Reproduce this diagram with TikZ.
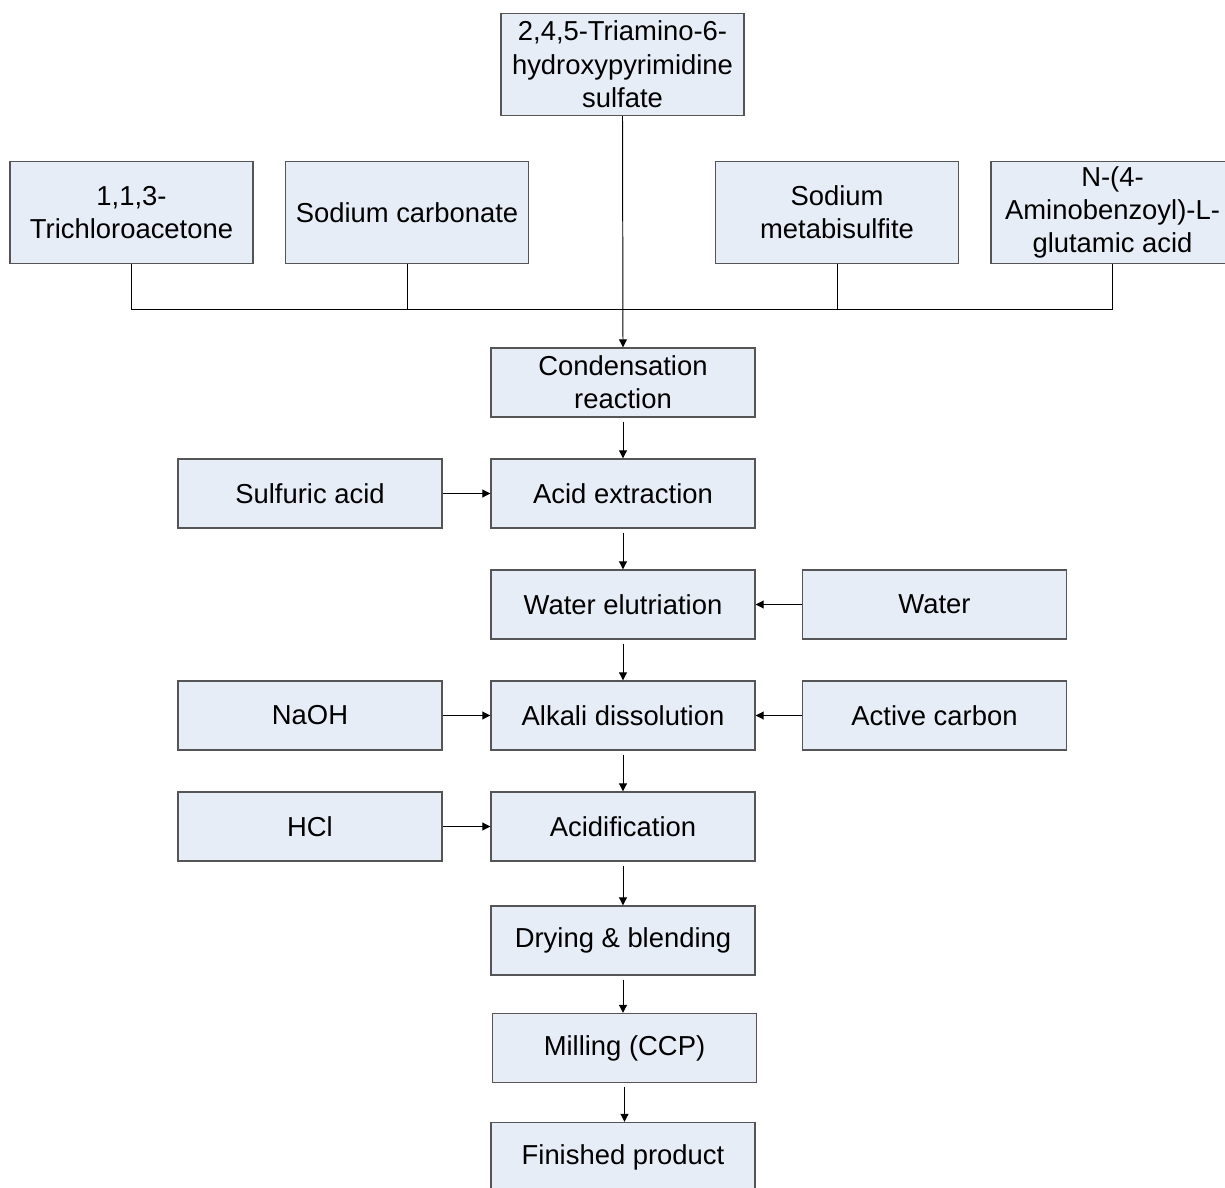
\documentclass[tikz,border=0pt]{standalone}
\usepackage{fontspec}
\setmainfont{Liberation Sans}
\usepackage{tikz}
\usetikzlibrary{positioning, arrows.meta, calc}
\definecolor{boxfill}{RGB}{231,237,247}
\definecolor{boxline}{RGB}{85,85,85}

\begin{document}
\begin{tikzpicture}[
    proc/.style={draw=boxline, line width=0.8pt, fill=boxfill, minimum width=5.28cm, minimum height=1.38cm, inner sep=0pt, align=center, font=\fontsize{15.6}{19}\selectfont},
    feed/.style={proc, minimum width=4.86cm, minimum height=2.04cm},
    link/.style={line width=0.55pt},
    arrow/.style={link, -{Triangle[length=1.6mm, width=1.6mm]}},
    down/.style={arrow, shorten <=0.08cm}
]
\useasboundingbox (0,0) rectangle (24.5,-23.76);

% Raw materials
\node[feed] (tahp) at (12.45,-1.29) {2,4,5-Triamino-6-\\hydroxypyrimidine\\sulfate};
\node[feed] (tca) at (2.63,-4.25) {1,1,3-\\Trichloroacetone};
\node[feed] (soda) at (8.14,-4.25) {Sodium carbonate};
\node[feed] (meta) at (16.74,-4.25) {Sodium\\metabisulfite};
\node[feed] (pabg) at (22.25,-4.25) {N-(4-\\Aminobenzoyl)-L-\\glutamic acid};

% Process steps
\node[proc] (cond) at (12.46,-7.65) {Condensation\\reaction};
\node[proc] (acid) at (12.46,-9.87) {Acid extraction};
\node[proc] (elut) at (12.46,-12.09) {Water elutriation};
\node[proc] (alk) at (12.46,-14.31) {Alkali dissolution};
\node[proc] (acidif) at (12.46,-16.53) {Acidification};
\node[proc] (dry) at (12.46,-18.81) {Drying \& blending};
\node[proc] (mill) at (12.49,-20.96) {Milling (CCP)};
\node[proc] (fin) at (12.46,-23.14) {Finished product};

% Additives
\node[proc] (sulf) at (6.2,-9.87) {Sulfuric acid};
\node[proc] (water) at (18.69,-12.09) {Water};
\node[proc] (naoh) at (6.2,-14.31) {NaOH};
\node[proc] (carbon) at (18.69,-14.31) {Active carbon};
\node[proc] (hcl) at (6.2,-16.53) {HCl};

% Collecting line
\coordinate (bus) at (0,-6.19);
\draw[link] (tca.south) -- (tca.south |- bus) -| (pabg.south);
\draw[link] (soda.south) -- (soda.south |- bus);
\draw[link] (meta.south) -- (meta.south |- bus);
\draw[arrow] (tahp.south) -- (cond.north);

% Main flow
\draw[down] (cond.south) -- (acid.north);
\draw[down] (acid.south) -- (elut.north);
\draw[down] (elut.south) -- (alk.north);
\draw[down] (alk.south) -- (acidif.north);
\draw[down] (acidif.south) -- (dry.north);
\draw[down] (dry.south) -- (mill.north -| dry.south);
\draw[down] (mill.south) -- (fin.north -| mill.south);

% Side inputs
\draw[arrow] (sulf.east) -- (acid.west);
\draw[arrow] (water.west) -- (elut.east);
\draw[arrow] (naoh.east) -- (alk.west);
\draw[arrow] (carbon.west) -- (alk.east);
\draw[arrow] (hcl.east) -- (acidif.west);
\end{tikzpicture}
\end{document}
